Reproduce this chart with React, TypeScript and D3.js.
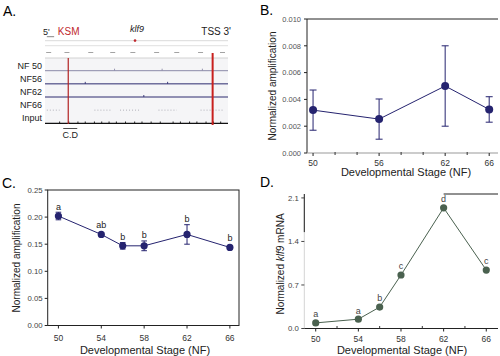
import React from "react";
import * as d3 from "d3";

const FONT = '"Liberation Sans", Arial, Helvetica, sans-serif';

// ---------- Panel A: genome browser tracks ----------
const trackLabels = ["NF 50", "NF56", "NF62", "NF66", "Input"];
const trackColors = ["#8c8aa8", "#2c2a6e", "#2c2a6e", "#a0a0aa", "#111111"];
const trackPeaks: number[][] = [
  [38, 64, 86],
  [22, 67],
  [54],
  [],
  [8, 13, 18, 22, 27, 31, 35, 39, 44, 49, 53, 58, 63, 70, 74, 79, 83, 88, 92, 96],
];
const nf66Segments: [number, number][] = [[1, 8], [27, 36], [41, 52], [62, 72], [85, 98]];
const rulerMarks = [2, 12, 25, 37, 48, 61, 72, 85, 97];
const ksmPosition = 12.7;
const tssPosition = 91.6;
const klf9Position = 49.2;

// ---------- Panel B ----------
const stagesB = [50, 56, 62, 66];
const ampB = [0.0032, 0.00253, 0.005, 0.00325];
const errB = [0.0015, 0.0015, 0.003, 0.00095];
const yTicksB = [0, 0.002, 0.004, 0.006, 0.008, 0.01];
const xLabelsB = [50, 56, 62, 66];
const xMinorB = [52, 54, 58, 60, 64];

// ---------- Panel C ----------
const stagesC = [50, 54, 56, 58, 62, 66];
const ampC = [0.202, 0.168, 0.147, 0.147, 0.168, 0.144];
const errC = [0.007, 0.003, 0.006, 0.009, 0.018, 0.003];
const lettersC = ["a", "ab", "b", "b", "b", "b"];
const yTicksC = [0, 0.05, 0.1, 0.15, 0.2, 0.25];
const xLabelsC = [50, 54, 58, 62, 66];

// ---------- Panel D ----------
const stagesD = [50, 54, 56, 58, 62, 66];
const mrnaD = [0.09, 0.15, 0.345, 0.86, 1.94, 0.94];
const lettersD = ["a", "a", "b", "c", "d", "c"];
const yTicksD = [0, 0.7, 1.4, 2.1];
const xLabelsD = [50, 54, 58, 62, 66];
const xMinorD = [52, 56, 60, 64];

const NAVY = "#25236f";
const GREEN = "#4a614f";

function PanelA() {
  const gx = d3.scaleLinear().domain([0, 100]).range([45, 228]);
  const ty = d3.scalePoint<string>().domain(trackLabels).range([70.7, 123.3]);
  return (
    <g fontFamily={FONT}>
      <text x={3} y={16} fontSize={14}>A.</text>
      {/* header */}
      <text x={43} y={35} fontSize={9} fill="#222">5'</text>
      <text x={gx(7)} y={35} fontSize={10} fill="#c0282d">KSM</text>
      <text x={gx(46.5)} y={32} fontSize={9} fontStyle="italic" fill="#222">klf9</text>
      <text x={231} y={35} fontSize={10} textAnchor="end" fill="#222">TSS 3'</text>
      <line x1={gx(0)} x2={gx(100)} y1={40.7} y2={40.7} stroke="#cfcfcf" strokeWidth={0.8} />
      <line x1={gx(0)} x2={gx(100)} y1={45.7} y2={45.7} stroke="#d8d8d8" strokeWidth={0.8} />
      <line x1={gx(1)} x2={gx(5)} y1={36.7} y2={36.7} stroke="#666" strokeWidth={0.8} />
      <circle cx={gx(klf9Position)} cy={40.6} r={1.3} fill="#c0282d" />
      {rulerMarks.map((m, i) => (
        <line key={i} x1={gx(m) - 2.5} x2={gx(m) + 2.5} y1={52.5} y2={52.5} stroke="#999" strokeWidth={0.9} />
      ))}
      {/* track area */}
      <rect x={gx(0)} y={58} width={gx(100) - gx(0)} height={66} fill="#f5f5f7" />
      <line x1={gx(0)} x2={gx(100)} y1={58} y2={58} stroke="#c8c8c8" strokeWidth={0.8} />
      {trackLabels.map((t, i) => {
        const y = ty(t) as number;
        return (
          <g key={t}>
            <text x={42} y={y - 2} fontSize={9} textAnchor="end" fill="#222">{t}</text>
            {i === 3 ? (
              nf66Segments.map(([a, b], k) => (
                <line key={k} x1={gx(a)} x2={gx(b)} y1={y} y2={y} stroke={trackColors[i]} strokeWidth={0.8} strokeDasharray="1,2" />
              ))
            ) : (
              <line x1={gx(0)} x2={gx(100)} y1={y} y2={y} stroke={trackColors[i]} strokeWidth={i === 4 ? 1.2 : 1} />
            )}
            {trackPeaks[i].map((p, k) => (
              <line key={k} x1={gx(p)} x2={gx(p)} y1={y} y2={y - (i === 4 ? 1.8 : 2)} stroke={trackColors[i]} strokeWidth={0.9} />
            ))}
          </g>
        );
      })}
      <line x1={gx(ksmPosition)} x2={gx(ksmPosition)} y1={58} y2={124} stroke="#b22222" strokeWidth={1.2} />
      <line x1={gx(tssPosition)} x2={gx(tssPosition)} y1={53} y2={125} stroke="#c8201e" strokeWidth={2} />
      <line x1={gx(ksmPosition) - 5} x2={gx(ksmPosition) + 9} y1={128.5} y2={128.5} stroke="#222" strokeWidth={0.8} />
      <text x={gx(ksmPosition) + 2} y={138} fontSize={9} textAnchor="middle" fill="#222">C.D</text>
    </g>
  );
}

function ErrorPoints({ xs, ys, es, x, y, color, r, cap }: any) {
  return (
    <g>
      {xs.map((s: number, i: number) =>
        es && es[i] > 0 ? (
          <g key={"e" + i} stroke={color} strokeWidth={1}>
            <line x1={x(s)} x2={x(s)} y1={y(ys[i] + es[i])} y2={y(ys[i] - es[i])} />
            <line x1={x(s) - cap} x2={x(s) + cap} y1={y(ys[i] + es[i])} y2={y(ys[i] + es[i])} />
            <line x1={x(s) - cap} x2={x(s) + cap} y1={y(ys[i] - es[i])} y2={y(ys[i] - es[i])} />
          </g>
        ) : null
      )}
      <path
        d={d3.line<number>().x((s) => x(s)).y((_, i) => y(ys[i]))(xs) || ""}
        fill="none"
        stroke={color}
        strokeWidth={1}
      />
      {xs.map((s: number, i: number) => (
        <circle key={"c" + i} cx={x(s)} cy={y(ys[i])} r={r} fill={color} />
      ))}
    </g>
  );
}

function PanelB() {
  const x = d3.scaleLinear().domain([49.45, 66.8]).range([307, 498]);
  const y = d3.scaleLinear().domain([0, 0.01]).range([153, 19]);
  const [x0, x1] = x.range();
  const [yb, yt] = y.range();
  return (
    <g fontFamily={FONT}>
      <text x={260} y={15} fontSize={14}>B.</text>
      <line x1={x0} x2={x1} y1={yt} y2={yt} stroke="#222" strokeWidth={1} />
      <line x1={x0} x2={x0} y1={yt} y2={yb} stroke="#222" strokeWidth={1} />
      <line x1={x0} x2={x1} y1={yb} y2={yb} stroke="#999" strokeWidth={1} />
      {yTicksB.map((t) => (
        <g key={t}>
          <line x1={x0 - 3} x2={x0} y1={y(t)} y2={y(t)} stroke="#222" />
          <text x={x0 - 6} y={y(t) + 2.7} fontSize={7.5} textAnchor="end" fill="#555">{d3.format(".3f")(t)}</text>
        </g>
      ))}
      {xLabelsB.map((t) => (
        <g key={t}>
          <line x1={x(t)} x2={x(t)} y1={yb} y2={yb + 3} stroke="#222" />
          <text x={x(t)} y={165.5} fontSize={8.5} textAnchor="middle" fill="#333">{t}</text>
        </g>
      ))}
      {xMinorB.map((t) => (
        <line key={t} x1={x(t)} x2={x(t)} y1={yb - 1} y2={yb + 2} stroke="#333" />
      ))}
      <ErrorPoints xs={stagesB} ys={ampB} es={errB} x={x} y={y} color={NAVY} r={4} cap={3.5} />
      <text x={406} y={176} fontSize={11} textAnchor="middle" fill="#222">Developmental Stage (NF)</text>
      <text transform="translate(272,86) rotate(-90)" fontSize={10} textAnchor="middle" dominantBaseline="central" fill="#222">
        Normalized amplification
      </text>
    </g>
  );
}

function PanelC() {
  const x = d3.scaleLinear().domain([49.0, 66.85]).range([47.7, 239]);
  const y = d3.scaleLinear().domain([0, 0.25]).range([325.5, 190]);
  const [x0, x1] = x.range();
  const [yb, yt] = y.range();
  const r = 3.6;
  return (
    <g fontFamily={FONT}>
      <text x={2} y={188} fontSize={14}>C.</text>
      <rect x={x0} y={yt} width={x1 - x0} height={yb - yt} fill="none" stroke="#222" strokeWidth={1} />
      {yTicksC.map((t) => (
        <g key={t}>
          <line x1={x0 - 3} x2={x0} y1={y(t)} y2={y(t)} stroke="#222" />
          <text x={x0 - 5} y={y(t) + 2.7} fontSize={7.8} textAnchor="end" fill="#444">{d3.format(".2f")(t)}</text>
        </g>
      ))}
      {xLabelsC.map((t) => (
        <g key={t}>
          <line x1={x(t)} x2={x(t)} y1={yb} y2={yb + 3} stroke="#222" />
          <text x={x(t)} y={340.5} fontSize={8.5} textAnchor="middle" fill="#333">{t}</text>
        </g>
      ))}
      <ErrorPoints xs={stagesC} ys={ampC} es={errC} x={x} y={y} color={NAVY} r={r} cap={2.8} />
      {stagesC.map((s, i) => (
        <text key={i} x={x(s)} y={Math.min(y(ampC[i] + errC[i]), y(ampC[i]) - r) - 2.5} fontSize={9} textAnchor="middle" fill="#222">
          {lettersC[i]}
        </text>
      ))}
      <text x={145} y={354} fontSize={11} textAnchor="middle" fill="#222">Developmental Stage (NF)</text>
      <text transform="translate(16,258) rotate(-90)" fontSize={10} textAnchor="middle" dominantBaseline="central" fill="#222">
        Normalized amplification
      </text>
    </g>
  );
}

function PanelD() {
  const x = d3.scaleLinear().domain([48.93, 67.1]).range([304.3, 498]);
  const y = d3.scaleLinear().domain([0, 2.163]).range([328.5, 194]);
  const [x0, x1] = x.range();
  const [yb, yt] = y.range();
  const r = 3.6;
  return (
    <g fontFamily={FONT}>
      <text x={260} y={187} fontSize={14}>D.</text>
      <line x1={x0} x2={x0} y1={yt} y2={yb} stroke="#d4d4d4" strokeWidth={1} />
      <line x1={x0} x2={x0} y1={yt} y2={y(1.55)} stroke="#222" strokeWidth={1} />
      <line x1={x(62)} x2={x1} y1={yt} y2={yt} stroke="#222" strokeWidth={1} />
      <line x1={x0} x2={x1} y1={yb} y2={yb} stroke="#222" strokeWidth={1} />
      {yTicksD.map((t) => (
        <g key={t}>
          <line x1={x0 - 3} x2={x0} y1={y(t)} y2={y(t)} stroke="#444" />
          <text x={x0 - 5.5} y={y(t) + 2.7} fontSize={7.8} textAnchor="end" fill="#444">{d3.format(".1f")(t)}</text>
        </g>
      ))}
      {xLabelsD.map((t) => (
        <g key={t}>
          <line x1={x(t)} x2={x(t)} y1={yb} y2={yb + 3} stroke="#222" />
          <text x={x(t)} y={341.5} fontSize={8.5} textAnchor="middle" fill="#333">{t}</text>
        </g>
      ))}
      {xMinorD.map((t) => (
        <line key={t} x1={x(t)} x2={x(t)} y1={yb - 2.5} y2={yb} stroke="#333" />
      ))}
      <ErrorPoints xs={stagesD} ys={mrnaD} es={null} x={x} y={y} color={GREEN} r={r} cap={0} />
      {stagesD.map((s, i) => (
        <text key={i} x={x(s)} y={y(mrnaD[i]) - r - 2} fontSize={9} textAnchor="middle" fill="#444">
          {lettersD[i]}
        </text>
      ))}
      <text x={402} y={354} fontSize={11} textAnchor="middle" fill="#222">Developmental Stage (NF)</text>
      <text transform="translate(280,264) rotate(-90)" fontSize={10} textAnchor="middle" dominantBaseline="central" fill="#222">
        Normalized <tspan fontStyle="italic">klf9</tspan> mRNA
      </text>
    </g>
  );
}

export default function App() {
  return (
    <svg
      width={500}
      height={356}
      viewBox="0 0 500 356"
      style={{ position: "absolute", left: 0, top: 0, background: "#fff" }}
    >
      <rect width={500} height={356} fill="#fff" />
      <PanelA />
      <PanelB />
      <PanelC />
      <PanelD />
    </svg>
  );
}
